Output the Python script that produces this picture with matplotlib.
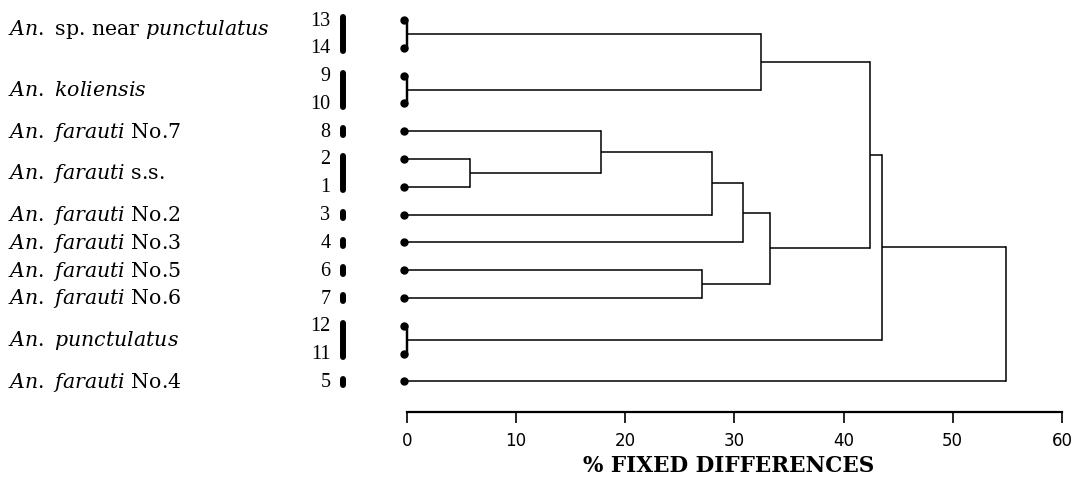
import matplotlib
matplotlib.use("Agg")
import matplotlib.pyplot as plt
import numpy as np

# ---------------- data ----------------
leaf_numbers = ["13", "14", "9", "10", "8", "2", "1", "3", "4", "6", "7", "12", "11", "5"]

# merges: (child_a, child_b, height) ; indices < 14 are leaves, >= 14 are earlier merges
merge_a = [0, 2, 5, 4, 17, 18, 9, 19, 14, 22, 11, 23, 25]
merge_b = [1, 3, 6, 16, 7, 8, 10, 20, 15, 21, 12, 24, 13]
merge_h = [0.0, 0.0, 5.8, 17.8, 28.0, 30.8, 27.0, 33.3, 32.4, 42.4, 0.0, 43.5, 54.9]

group_labels = [
    r"$\mathit{An.}$ sp. near $\mathit{punctulatus}$",
    r"$\mathit{An.\ koliensis}$",
    r"$\mathit{An.\ farauti}$ No.7",
    r"$\mathit{An.\ farauti}$ s.s.",
    r"$\mathit{An.\ farauti}$ No.2",
    r"$\mathit{An.\ farauti}$ No.3",
    r"$\mathit{An.\ farauti}$ No.5",
    r"$\mathit{An.\ farauti}$ No.6",
    r"$\mathit{An.\ punctulatus}$",
    r"$\mathit{An.\ farauti}$ No.4",
]
group_leaves = [[0, 1], [2, 3], [4], [5, 6], [7], [8], [9], [10], [11, 12], [13]]

xticks = [0, 10, 20, 30, 40, 50, 60]
xlabel = "% FIXED DIFFERENCES"

# ---------------- style ----------------
plt.rcParams["font.family"] = "DejaVu Serif"
plt.rcParams["mathtext.fontset"] = "custom"
plt.rcParams["mathtext.it"] = "DejaVu Serif:italic"
plt.rcParams["mathtext.rm"] = "DejaVu Serif"

W, H = 1083, 481
fig = plt.figure(figsize=(W / 100, H / 100), dpi=100)
ax = fig.add_axes([0, 0, 1, 1])

px_per_unit_x = 109.2 / 10
x0_px = 406.7
px_per_leaf = 27.8
y0_px = 21
ax.set_xlim((0 - x0_px) / px_per_unit_x, (W - x0_px) / px_per_unit_x)
ax.set_ylim((H - y0_px) / px_per_leaf, (0 - y0_px) / px_per_leaf)

lw = 1.1
col = "black"
n = len(leaf_numbers)
pos_y = {i: float(i) for i in range(n)}
pos_x = {i: 0.0 for i in range(n)}
for k, (a, b, h) in enumerate(zip(merge_a, merge_b, merge_h)):
    c = n + k
    ax.plot([pos_x[a], h], [pos_y[a], pos_y[a]], color=col, lw=lw, solid_capstyle="butt")
    ax.plot([pos_x[b], h], [pos_y[b], pos_y[b]], color=col, lw=lw, solid_capstyle="butt")
    ax.plot([h, h], [pos_y[a], pos_y[b]], color=col, lw=lw * (1.6 if h == 0 else 1))
    pos_y[c] = (pos_y[a] + pos_y[b]) / 2
    pos_x[c] = h

# leaf dots
dot_dx = -0.25
for i in range(n):
    ax.plot([dot_dx, 0], [i, i], color=col, lw=lw)
    ax.plot(dot_dx, i, "o", color=col, ms=5)

# leaf numbers
for i, lab in enumerate(leaf_numbers):
    ax.text(-7.0, i, lab, ha="right", va="center", fontsize=14.5,
            family="Liberation Serif")

# group bars and labels
bar_x = -5.8
for lab, leaves in zip(group_labels, group_leaves):
    y1, y2 = min(leaves) - 0.1, max(leaves) + 0.12
    ax.plot([bar_x, bar_x], [y1, y2], color=col, lw=4.3, solid_capstyle="round")
    ly = np.mean(leaves) - (0.2 if len(leaves) > 1 and leaves[0] == 0 else 0)
    ax.text(-36.5, ly, lab, ha="left", va="center", fontsize=14.8)

# axis
for s in ["top", "left", "right"]:
    ax.spines[s].set_visible(False)
ax.spines["bottom"].set_position(("data", (413 - y0_px) / px_per_leaf))
ax.spines["bottom"].set_bounds(0, 60)
ax.spines["bottom"].set_linewidth(1.6)
ax.set_yticks([])
ax.set_xticks(xticks)
ax.set_xticklabels([str(t) for t in xticks], family="DejaVu Sans", fontsize=12)
ax.tick_params(axis="x", direction="out", length=8, width=1.2, pad=6)
ax.set_xlabel(xlabel, fontsize=15.5, fontweight="bold", family="DejaVu Serif")
ax.xaxis.set_label_coords((29.5 * px_per_unit_x + x0_px) / W, 1 - 466 / H)
ax.xaxis.label.set_va("center")

fig.savefig("out.png", dpi=100)
